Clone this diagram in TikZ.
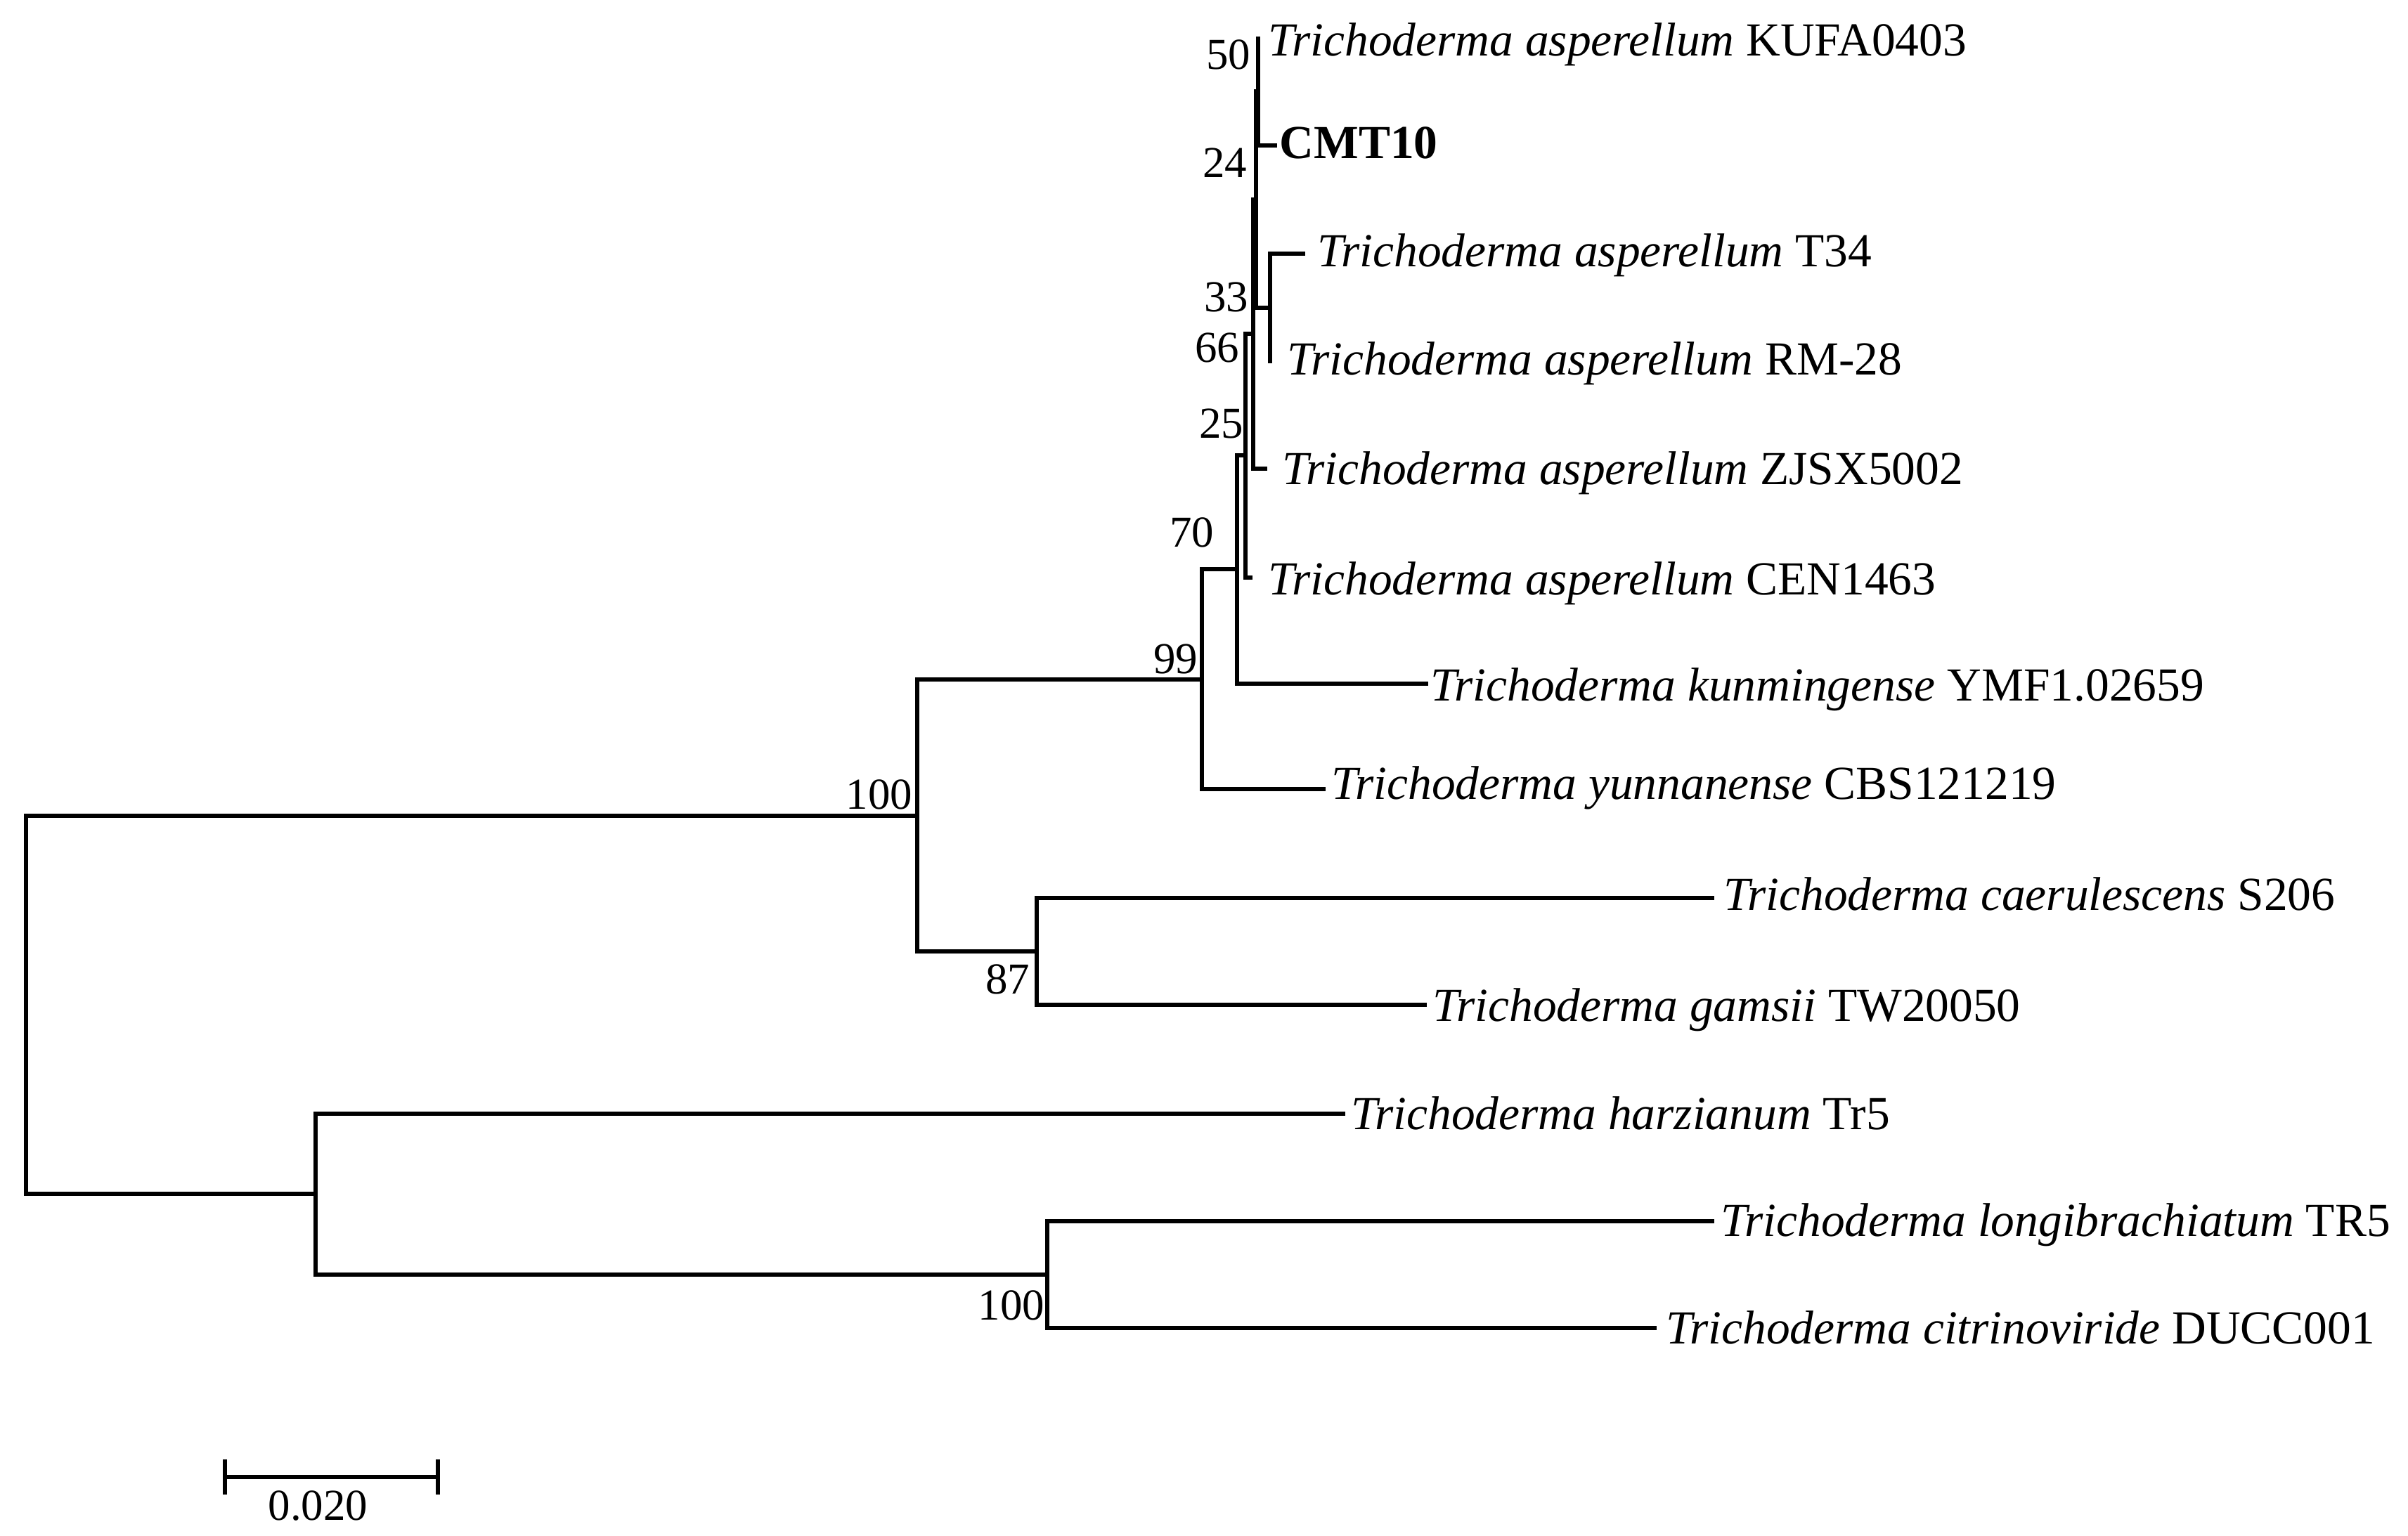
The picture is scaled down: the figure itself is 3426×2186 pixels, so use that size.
\documentclass[tikz,border=0pt]{standalone}
\usepackage{fontspec}
\setmainfont{Liberation Serif}
\begin{document}
\begin{tikzpicture}[x=0.1mm,y=-0.1mm,
  br/.style={line width=0.56mm, black},
  taxon/.style={anchor=base west, inner sep=0pt, font=\fontsize{19.2}{23}\selectfont},
  boot/.style={anchor=base east, inner sep=0pt, font=\fontsize{17.9}{21}\selectfont}]
\useasboundingbox (0,0) rectangle (3426,2186);
% internal nodes
\coordinate (R) at (37,1430);
\coordinate (H) at (1305,1161);
\coordinate (J) at (449,1699);
\coordinate (G) at (1710,967);
\coordinate (I) at (1475,1354);
\coordinate (K) at (1490,1814);
\coordinate (F) at (1760,810);
\coordinate (E) at (1772,648);
\coordinate (D) at (1783,475);
\coordinate (B) at (1787,284);
\coordinate (A) at (1790,130);
\coordinate (C) at (1807,438);
% leaves
\coordinate (kufa) at (1790,52);
\coordinate (cmt) at (1817,207);
\coordinate (t34) at (1857,361);
\coordinate (rm) at (1807,517);
\coordinate (zjsx) at (1803,667);
\coordinate (cen) at (1782,822);
\coordinate (kun) at (2032,973);
\coordinate (yun) at (1886,1123);
\coordinate (cae) at (2439,1278);
\coordinate (gam) at (2030,1430);
\coordinate (har) at (1914,1585);
\coordinate (lon) at (2439,1738);
\coordinate (cit) at (2357,1890);
% branches
\draw[br] (R) |- (H);
\draw[br] (R) |- (J);
\draw[br] (H) |- (G);
\draw[br] (H) |- (I);
\draw[br] (G) |- (F);
\draw[br] (G) |- (yun);
\draw[br] (F) |- (E);
\draw[br] (F) |- (kun);
\draw[br] (E) |- (D);
\draw[br] (E) |- (cen);
\draw[br] (D) |- (B);
\draw[br] (D) |- (zjsx);
\draw[br] (B) |- (A);
\draw[br] (B) |- (C);
\draw[br] (A) |- (kufa);
\draw[br] (A) |- (cmt);
\draw[br] (C) |- (t34);
\draw[br] (C) |- (rm);
\draw[br] (I) |- (cae);
\draw[br] (I) |- (gam);
\draw[br] (J) |- (har);
\draw[br] (J) |- (K);
\draw[br] (K) |- (lon);
\draw[br] (K) |- (cit);
% taxon labels
\node[taxon] (lkufa) at (1804,79) {\textit{Trichoderma asperellum} KUFA0403};
\node[taxon] (lcmt) at (1820,225) {\textbf{CMT10}};
\node[taxon] (lt34) at (1874,379) {\textit{Trichoderma asperellum} T34};
\node[taxon] (lrm) at (1831,533) {\textit{Trichoderma asperellum} RM-28};
\node[taxon] (lzjsx) at (1824,689) {\textit{Trichoderma asperellum} ZJSX5002};
\node[taxon] (lcen) at (1804,846) {\textit{Trichoderma asperellum} CEN1463};
\node[taxon] (lkun) at (2035,997) {\textit{Trichoderma kunmingense} YMF1.02659};
\node[taxon] (lyun) at (1894,1137) {\textit{Trichoderma yunnanense} CBS121219};
\node[taxon] (lcae) at (2452,1295) {\textit{Trichoderma caerulescens} S206};
\node[taxon] (lgam) at (2038,1453) {\textit{Trichoderma gamsii} TW20050};
\node[taxon] (lhar) at (1922,1607) {\textit{Trichoderma harzianum} Tr5};
\node[taxon] (llon) at (2448,1759) {\textit{Trichoderma longibrachiatum} TR5};
\node[taxon] (lcit) at (2370,1912) {\textit{Trichoderma citrinoviride} DUCC001};
% bootstrap values
\node[boot] (b50) at (1780,98) {50};
\node[boot] (b24) at (1775,252) {24};
\node[boot] (b33) at (1777,443) {33};
\node[boot] (b66) at (1764,515) {66};
\node[boot] (b25) at (1770,623) {25};
\node[boot] (b70) at (1728,778) {70};
\node[boot] (b99) at (1705,958) {99};
\node[boot] (b100a) at (1299,1151) {100};
\node[boot] (b87) at (1466,1414) {87};
\node[boot] (b100b) at (1487,1878) {100};
% scale bar
\coordinate (s1) at (320,2102);
\coordinate (s2) at (623,2102);
\coordinate (s1t) at (320,2077);
\coordinate (s1b) at (320,2127);
\coordinate (s2t) at (623,2077);
\coordinate (s2b) at (623,2127);
\draw[br] (s1) -- (s2);
\draw[br] (s1t) -- (s1b);
\draw[br] (s2t) -- (s2b);
\node[anchor=base west, inner sep=0pt, font=\fontsize{17.9}{21}\selectfont] (sl) at (381,2163) {0.020};
\end{tikzpicture}
\end{document}
